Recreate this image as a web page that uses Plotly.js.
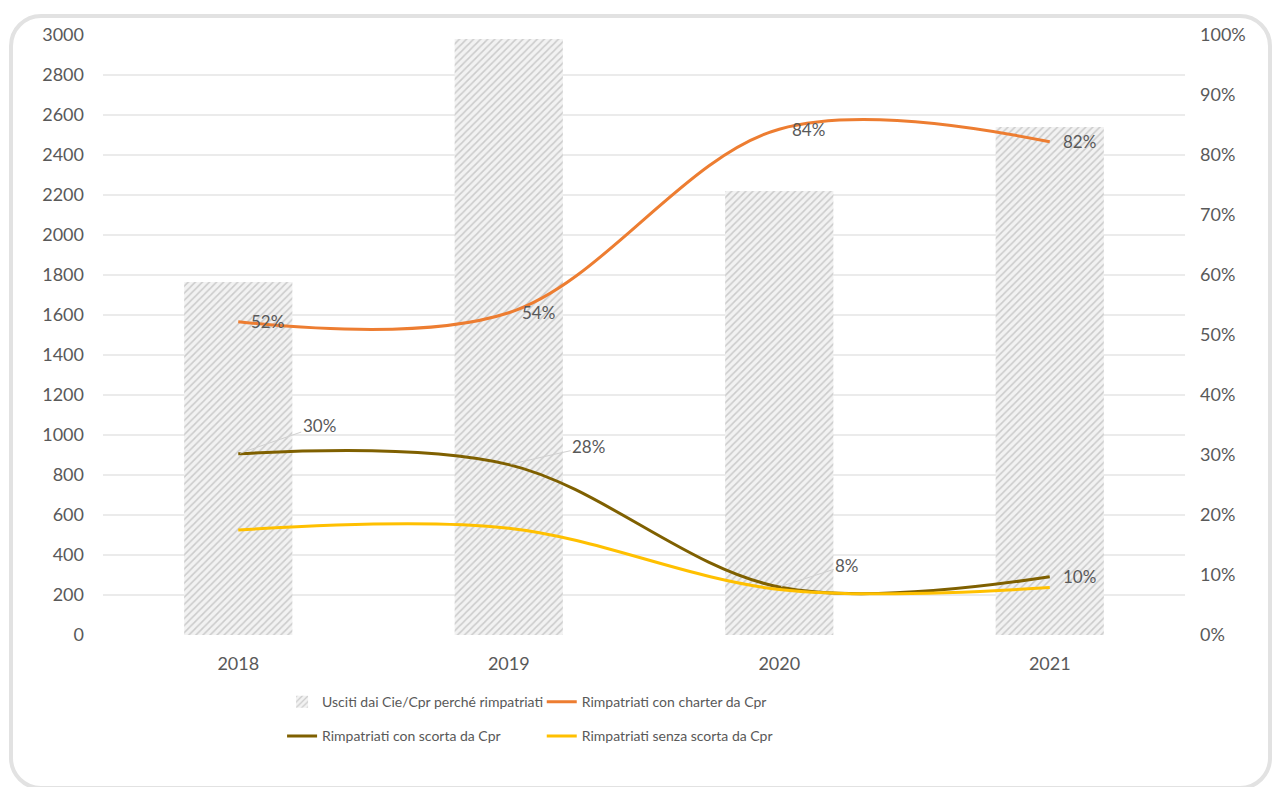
<!DOCTYPE html>
<html>
<head>
<meta charset="utf-8">
<script src="https://cdn.plot.ly/plotly-3.0.1.min.js"></script>
<style>
  html, body { margin: 0; padding: 0; background: #ffffff; }
  #frame { position: absolute; left: 9px; top: 14px; width: 1263px; height: 776px;
           border: 4px solid #e2e2e2; border-radius: 32px; box-sizing: border-box; }
  #chart { position: absolute; left: 0; top: 0; width: 1277px; height: 787px; }
</style>
</head>
<body>
<div id="frame"></div>
<div id="chart"></div>
<script>
const years = ['2018', '2019', '2020', '2021'];
const usciti = [1765, 2980, 2220, 2540];
const charter = [52.2, 53.7, 84.3, 82.2];
const scorta = [30.2, 28.4, 8.0, 9.7];
const senza = [17.5, 17.8, 7.6, 7.9];
const seriesNames = [
  'Usciti dai Cie/Cpr perché rimpatriati',
  'Rimpatriati con charter da Cpr',
  'Rimpatriati con scorta da Cpr',
  'Rimpatriati senza scorta da Cpr'
];
const leftTicks = [0, 200, 400, 600, 800, 1000, 1200, 1400, 1600, 1800, 2000, 2200, 2400, 2600, 2800, 3000];
const rightTicks = [0, 10, 20, 30, 40, 50, 60, 70, 80, 90, 100];

const FONT = 'Lato, "Open Sans", sans-serif';
const GREY = '#595959';

const traces = [
  {
    type: 'bar', x: years, y: usciti, name: seriesNames[0],
    marker: { color: '#f2f2f2', line: { width: 0 },
      pattern: { shape: '/', fgcolor: '#cbcbcb', bgcolor: '#f2f2f2', size: 5, solidity: 0.3 } },
    legend: 'legend', legendgroup: 'a', hoverinfo: 'skip'
  },
  {
    type: 'scatter', mode: 'lines', x: years, y: charter, yaxis: 'y2', name: seriesNames[1],
    line: { color: '#ED7D31', width: 3, shape: 'spline', smoothing: 1 },
    legend: 'legend2', legendgroup: 'b'
  },
  {
    type: 'scatter', mode: 'lines', x: years, y: scorta, yaxis: 'y2', name: seriesNames[2],
    line: { color: '#7F6000', width: 3, shape: 'spline', smoothing: 1 },
    legend: 'legend', legendgroup: 'c'
  },
  {
    type: 'scatter', mode: 'lines', x: years, y: senza, yaxis: 'y2', name: seriesNames[3],
    line: { color: '#FFC000', width: 3, shape: 'spline', smoothing: 1 },
    legend: 'legend2', legendgroup: 'd'
  }
];

const annotations = [];
function plainLabel(series, i) {
  annotations.push({
    x: i, y: series[i], xref: 'x', yref: 'y2',
    text: Math.round(series[i]) + '%', showarrow: false,
    xanchor: 'left', yanchor: 'middle', xshift: 11,
    font: { family: FONT, size: 17, color: GREY }
  });
}
function leaderLabel(series, i, ax, ay) {
  annotations.push({
    x: i, y: series[i], xref: 'x', yref: 'y2',
    text: Math.round(series[i]) + '%', showarrow: true,
    arrowhead: 0, arrowwidth: 1, arrowcolor: '#d0d0d0',
    ax: ax, ay: ay, standoff: 2, startstandoff: 0,
    font: { family: FONT, size: 17, color: GREY }
  });
}
for (let i = 0; i < 4; i++) plainLabel(charter, i);
leaderLabel(scorta, 0, 81, -28);
leaderLabel(scorta, 1, 80, -18);
leaderLabel(scorta, 2, 68, -22);
plainLabel(scorta, 3);

const layout = {
  width: 1277, height: 787,
  margin: { l: 103, r: 92, t: 35, b: 152 },
  paper_bgcolor: 'rgba(0,0,0,0)', plot_bgcolor: 'rgba(0,0,0,0)',
  font: { family: FONT, size: 17, color: GREY },
  bargap: 0.6,
  showlegend: true,
  xaxis: {
    type: 'category', range: [-0.5, 3.5], autorange: false,
    showgrid: false, zeroline: false, showline: false,
    ticks: '', ticklabelstandoff: 16, tickfont: { family: FONT, size: 18, color: GREY }
  },
  yaxis: {
    range: [0, 3000], tickvals: leftTicks, ticktext: leftTicks.map(String),
    showgrid: true, gridcolor: '#ebebeb', gridwidth: 2, zeroline: false, showline: false,
    ticks: '', ticklabelstandoff: 18, tickfont: { family: FONT, size: 18, color: GREY }
  },
  yaxis2: {
    overlaying: 'y', side: 'right', range: [0, 100],
    tickvals: rightTicks, ticktext: rightTicks.map(v => v + '%'),
    showgrid: false, zeroline: false, showline: false,
    ticks: '', ticklabelstandoff: 14, tickfont: { family: FONT, size: 18, color: GREY }
  },
  legend: {
    orientation: 'v', x: 0.1655, y: -0.0853, xanchor: 'left', yanchor: 'top',
    xref: 'paper', yref: 'paper', bgcolor: 'rgba(0,0,0,0)',
    traceorder: 'grouped', tracegroupgap: 13, itemwidth: 30,
    font: { family: FONT, size: 14, color: GREY }
  },
  legend2: {
    orientation: 'v', x: 0.4055, y: -0.0853, xanchor: 'left', yanchor: 'top',
    xref: 'paper', yref: 'paper', bgcolor: 'rgba(0,0,0,0)',
    traceorder: 'grouped', tracegroupgap: 13, itemwidth: 30,
    font: { family: FONT, size: 14, color: GREY }
  },
  annotations: annotations
};

Plotly.newPlot('chart', traces, layout, { displayModeBar: false, staticPlot: true });
</script>
</body>
</html>
